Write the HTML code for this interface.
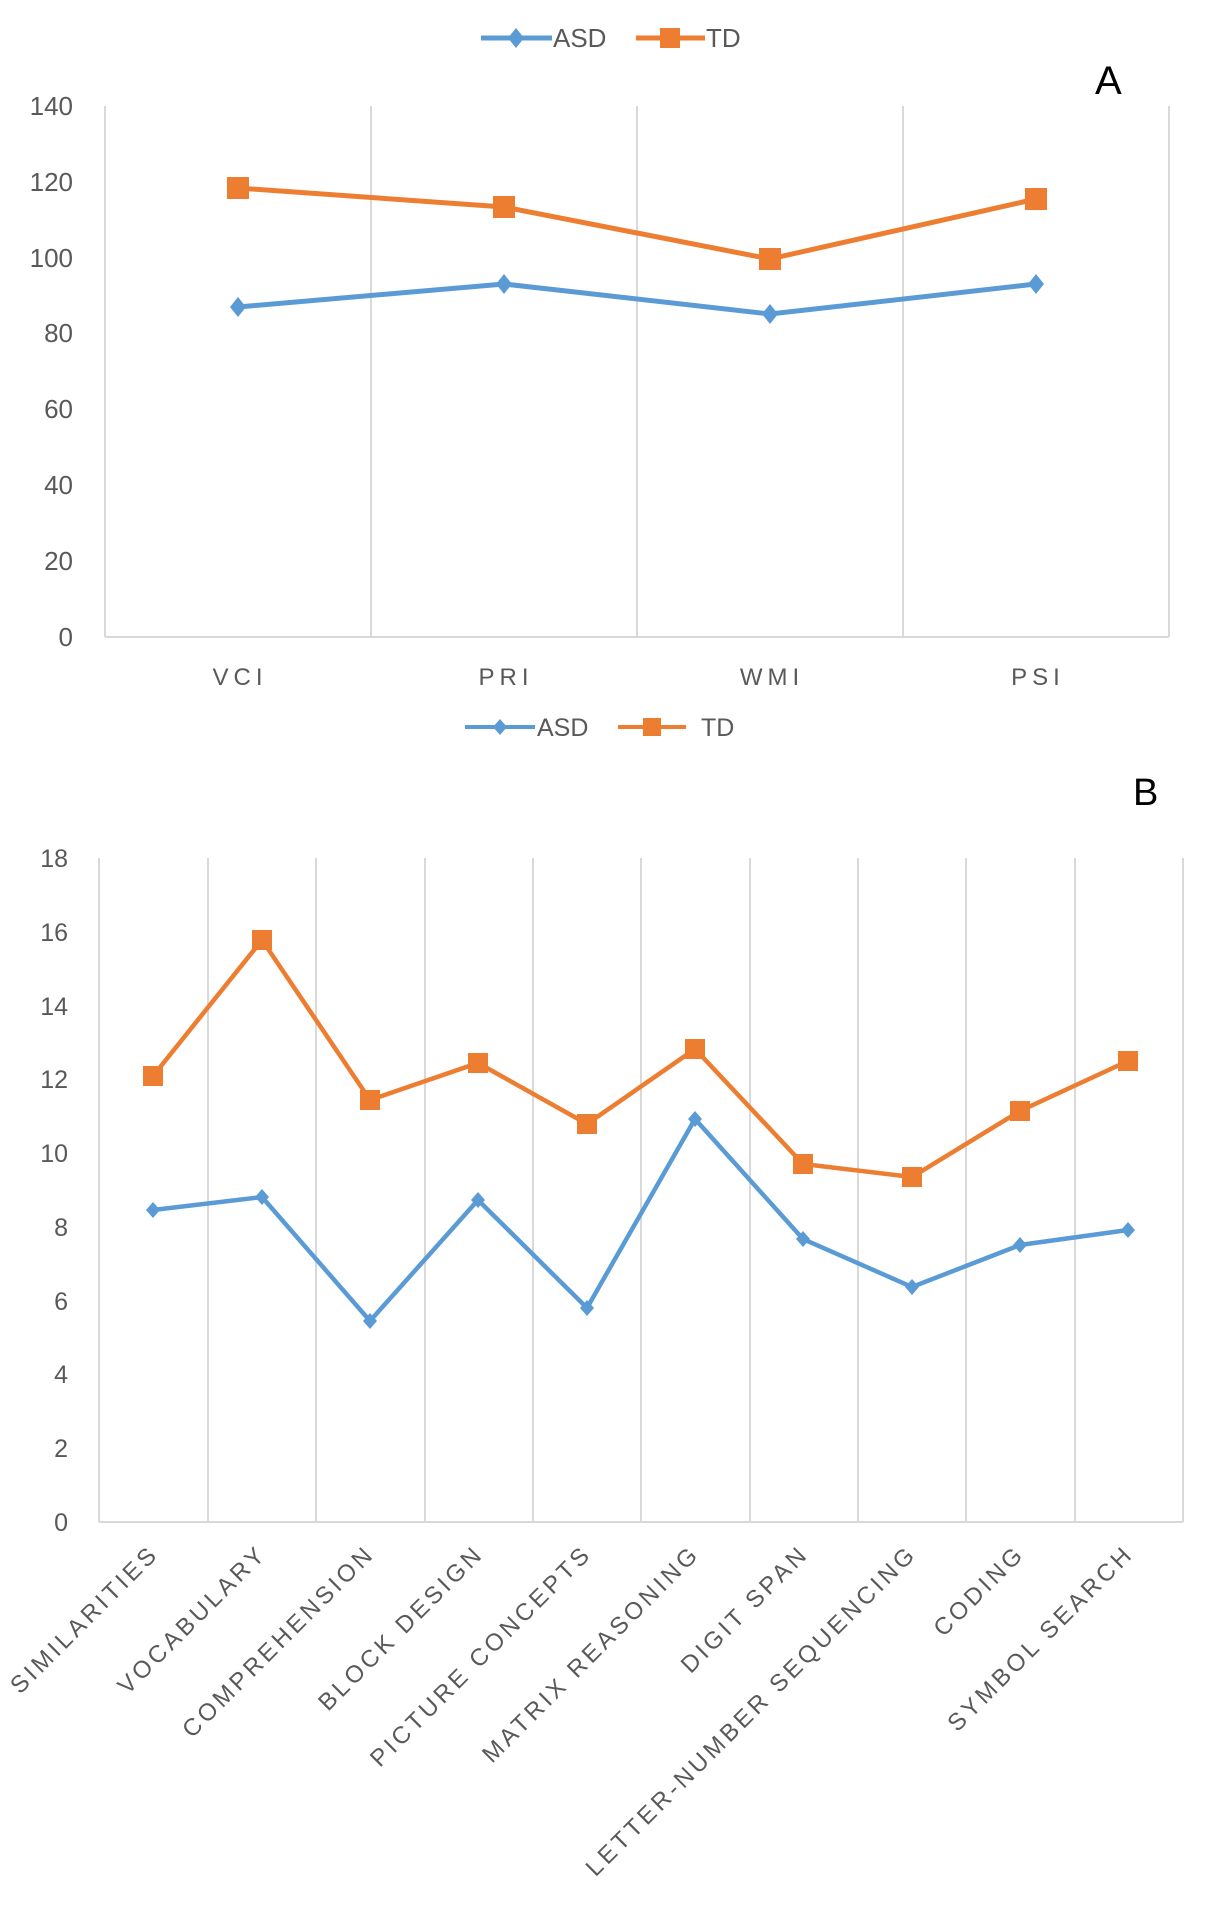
<!DOCTYPE html>
<html><head><meta charset="utf-8"><style>html,body{margin:0;padding:0;background:#fff}svg{display:block}</style></head>
<body>
<svg width="1205" height="1911" viewBox="0 0 1205 1911" xmlns="http://www.w3.org/2000/svg" font-family="Liberation Sans, sans-serif">
<!-- Chart A -->
<g>
  <line x1="481" y1="38" x2="552" y2="38" stroke="#5b9bd5" stroke-width="5"/>
  <path d="M516 28 L524 38 L516 48 L508 38 Z" fill="#5b9bd5"/>
  <text x="553" y="47" font-size="26" fill="#595959">ASD</text>
  <line x1="636" y1="38" x2="705" y2="38" stroke="#ed7d31" stroke-width="5"/>
  <rect x="660" y="28" width="20" height="20" fill="#ed7d31"/>
  <text x="706" y="47" font-size="26" fill="#595959">TD</text>
  <text x="1095" y="94" font-size="40" fill="#000">A</text>
  <g stroke="#d9d9d9" stroke-width="2">
    <line x1="371" y1="106" x2="371" y2="637"/>
    <line x1="637" y1="106" x2="637" y2="637"/>
    <line x1="903" y1="106" x2="903" y2="637"/>
    <line x1="1169" y1="106" x2="1169" y2="637"/>
    <line x1="105" y1="106" x2="105" y2="637"/>
    <line x1="105" y1="637" x2="1169" y2="637"/>
  </g>
  <g font-size="26" fill="#595959" text-anchor="end">
    <text x="73" y="115">140</text><text x="73" y="191">120</text><text x="73" y="267">100</text>
    <text x="73" y="342">80</text><text x="73" y="418">60</text><text x="73" y="494">40</text>
    <text x="73" y="570">20</text><text x="73" y="646">0</text>
  </g>
  <g font-size="24" fill="#595959" text-anchor="middle" letter-spacing="5">
    <text x="240" y="685">VCI</text><text x="506" y="685">PRI</text><text x="772" y="685">WMI</text><text x="1038" y="685">PSI</text>
  </g>
  <polyline points="238,307 504,284 770,314 1036,284" fill="none" stroke="#5b9bd5" stroke-width="5"/>
  <g fill="#5b9bd5">
    <path d="M238 297 L246 307 L238 317 L230 307Z"/><path d="M504 274 L512 284 L504 294 L496 284Z"/>
    <path d="M770 304 L778 314 L770 324 L762 314Z"/><path d="M1036 274 L1044 284 L1036 294 L1028 284Z"/>
  </g>
  <polyline points="238,188 504,207 770,259 1036,199" fill="none" stroke="#ed7d31" stroke-width="5"/>
  <g fill="#ed7d31">
    <rect x="227" y="177" width="22" height="22"/><rect x="493" y="196" width="22" height="22"/>
    <rect x="759" y="248" width="22" height="22"/><rect x="1025" y="188" width="22" height="22"/>
  </g>
</g>
<!-- Chart B -->
<g>
  <line x1="465" y1="727" x2="535" y2="727" stroke="#5b9bd5" stroke-width="4"/>
  <path d="M500 719 L507 727 L500 735 L493 727 Z" fill="#5b9bd5"/>
  <text x="537" y="736" font-size="25" fill="#595959">ASD</text>
  <line x1="618" y1="727" x2="686" y2="727" stroke="#ed7d31" stroke-width="4"/>
  <rect x="643" y="718" width="18" height="18" fill="#ed7d31"/>
  <text x="701" y="736" font-size="25" fill="#595959">TD</text>
  <text x="1133" y="805" font-size="38" fill="#000">B</text>
  <g stroke="#d9d9d9" stroke-width="2">
    <line x1="208" y1="858" x2="208" y2="1522"/><line x1="316" y1="858" x2="316" y2="1522"/>
    <line x1="425" y1="858" x2="425" y2="1522"/><line x1="533" y1="858" x2="533" y2="1522"/>
    <line x1="641" y1="858" x2="641" y2="1522"/><line x1="750" y1="858" x2="750" y2="1522"/>
    <line x1="858" y1="858" x2="858" y2="1522"/><line x1="966" y1="858" x2="966" y2="1522"/>
    <line x1="1075" y1="858" x2="1075" y2="1522"/><line x1="1183" y1="858" x2="1183" y2="1522"/>
    <line x1="99" y1="858" x2="99" y2="1522"/>
    <line x1="99" y1="1522" x2="1183" y2="1522"/>
  </g>
  <g font-size="25" fill="#595959" text-anchor="end">
    <text x="68" y="867">18</text><text x="68" y="941">16</text><text x="68" y="1015">14</text>
    <text x="68" y="1088">12</text><text x="68" y="1162">10</text><text x="68" y="1236">8</text>
    <text x="68" y="1310">6</text><text x="68" y="1383">4</text><text x="68" y="1457">2</text><text x="68" y="1531">0</text>
  </g>
  <g font-size="24" fill="#595959" text-anchor="end" letter-spacing="3.5">
    <text transform="translate(160,1555) rotate(-45)">SIMILARITIES</text>
    <text transform="translate(268,1555) rotate(-45)">VOCABULARY</text>
    <text transform="translate(376,1555) rotate(-45)">COMPREHENSION</text>
    <text transform="translate(485,1555) rotate(-45)">BLOCK DESIGN</text>
    <text transform="translate(593,1555) rotate(-45)">PICTURE CONCEPTS</text>
    <text transform="translate(701,1555) rotate(-45)">MATRIX REASONING</text>
    <text transform="translate(810,1555) rotate(-45)">DIGIT SPAN</text>
    <text transform="translate(918,1555) rotate(-45)">LETTER-NUMBER SEQUENCING</text>
    <text transform="translate(1026,1555) rotate(-45)">CODING</text>
    <text transform="translate(1135,1555) rotate(-45)">SYMBOL SEARCH</text>
  </g>
  <polyline points="153,1210 262,1197 370,1321 478,1200 587,1308 695,1119 803,1239 912,1287 1020,1245 1128,1230" fill="none" stroke="#5b9bd5" stroke-width="4.5"/>
  <g fill="#5b9bd5">
    <path d="M153 1202l7 8-7 8-7-8z"/><path d="M262 1189l7 8-7 8-7-8z"/><path d="M370 1313l7 8-7 8-7-8z"/>
    <path d="M478 1192l7 8-7 8-7-8z"/><path d="M587 1300l7 8-7 8-7-8z"/><path d="M695 1111l7 8-7 8-7-8z"/>
    <path d="M803 1231l7 8-7 8-7-8z"/><path d="M912 1279l7 8-7 8-7-8z"/><path d="M1020 1237l7 8-7 8-7-8z"/>
    <path d="M1128 1222l7 8-7 8-7-8z"/>
  </g>
  <polyline points="153,1076 262,940 370,1100 478,1063 587,1124 695,1049 803,1164 912,1177 1020,1111 1128,1061" fill="none" stroke="#ed7d31" stroke-width="4.5"/>
  <g fill="#ed7d31">
    <rect x="143" y="1066" width="20" height="20"/><rect x="252" y="930" width="20" height="20"/>
    <rect x="360" y="1090" width="20" height="20"/><rect x="468" y="1053" width="20" height="20"/>
    <rect x="577" y="1114" width="20" height="20"/><rect x="685" y="1039" width="20" height="20"/>
    <rect x="793" y="1154" width="20" height="20"/><rect x="902" y="1167" width="20" height="20"/>
    <rect x="1010" y="1101" width="20" height="20"/><rect x="1118" y="1051" width="20" height="20"/>
  </g>
</g>
</svg>
</body></html>
